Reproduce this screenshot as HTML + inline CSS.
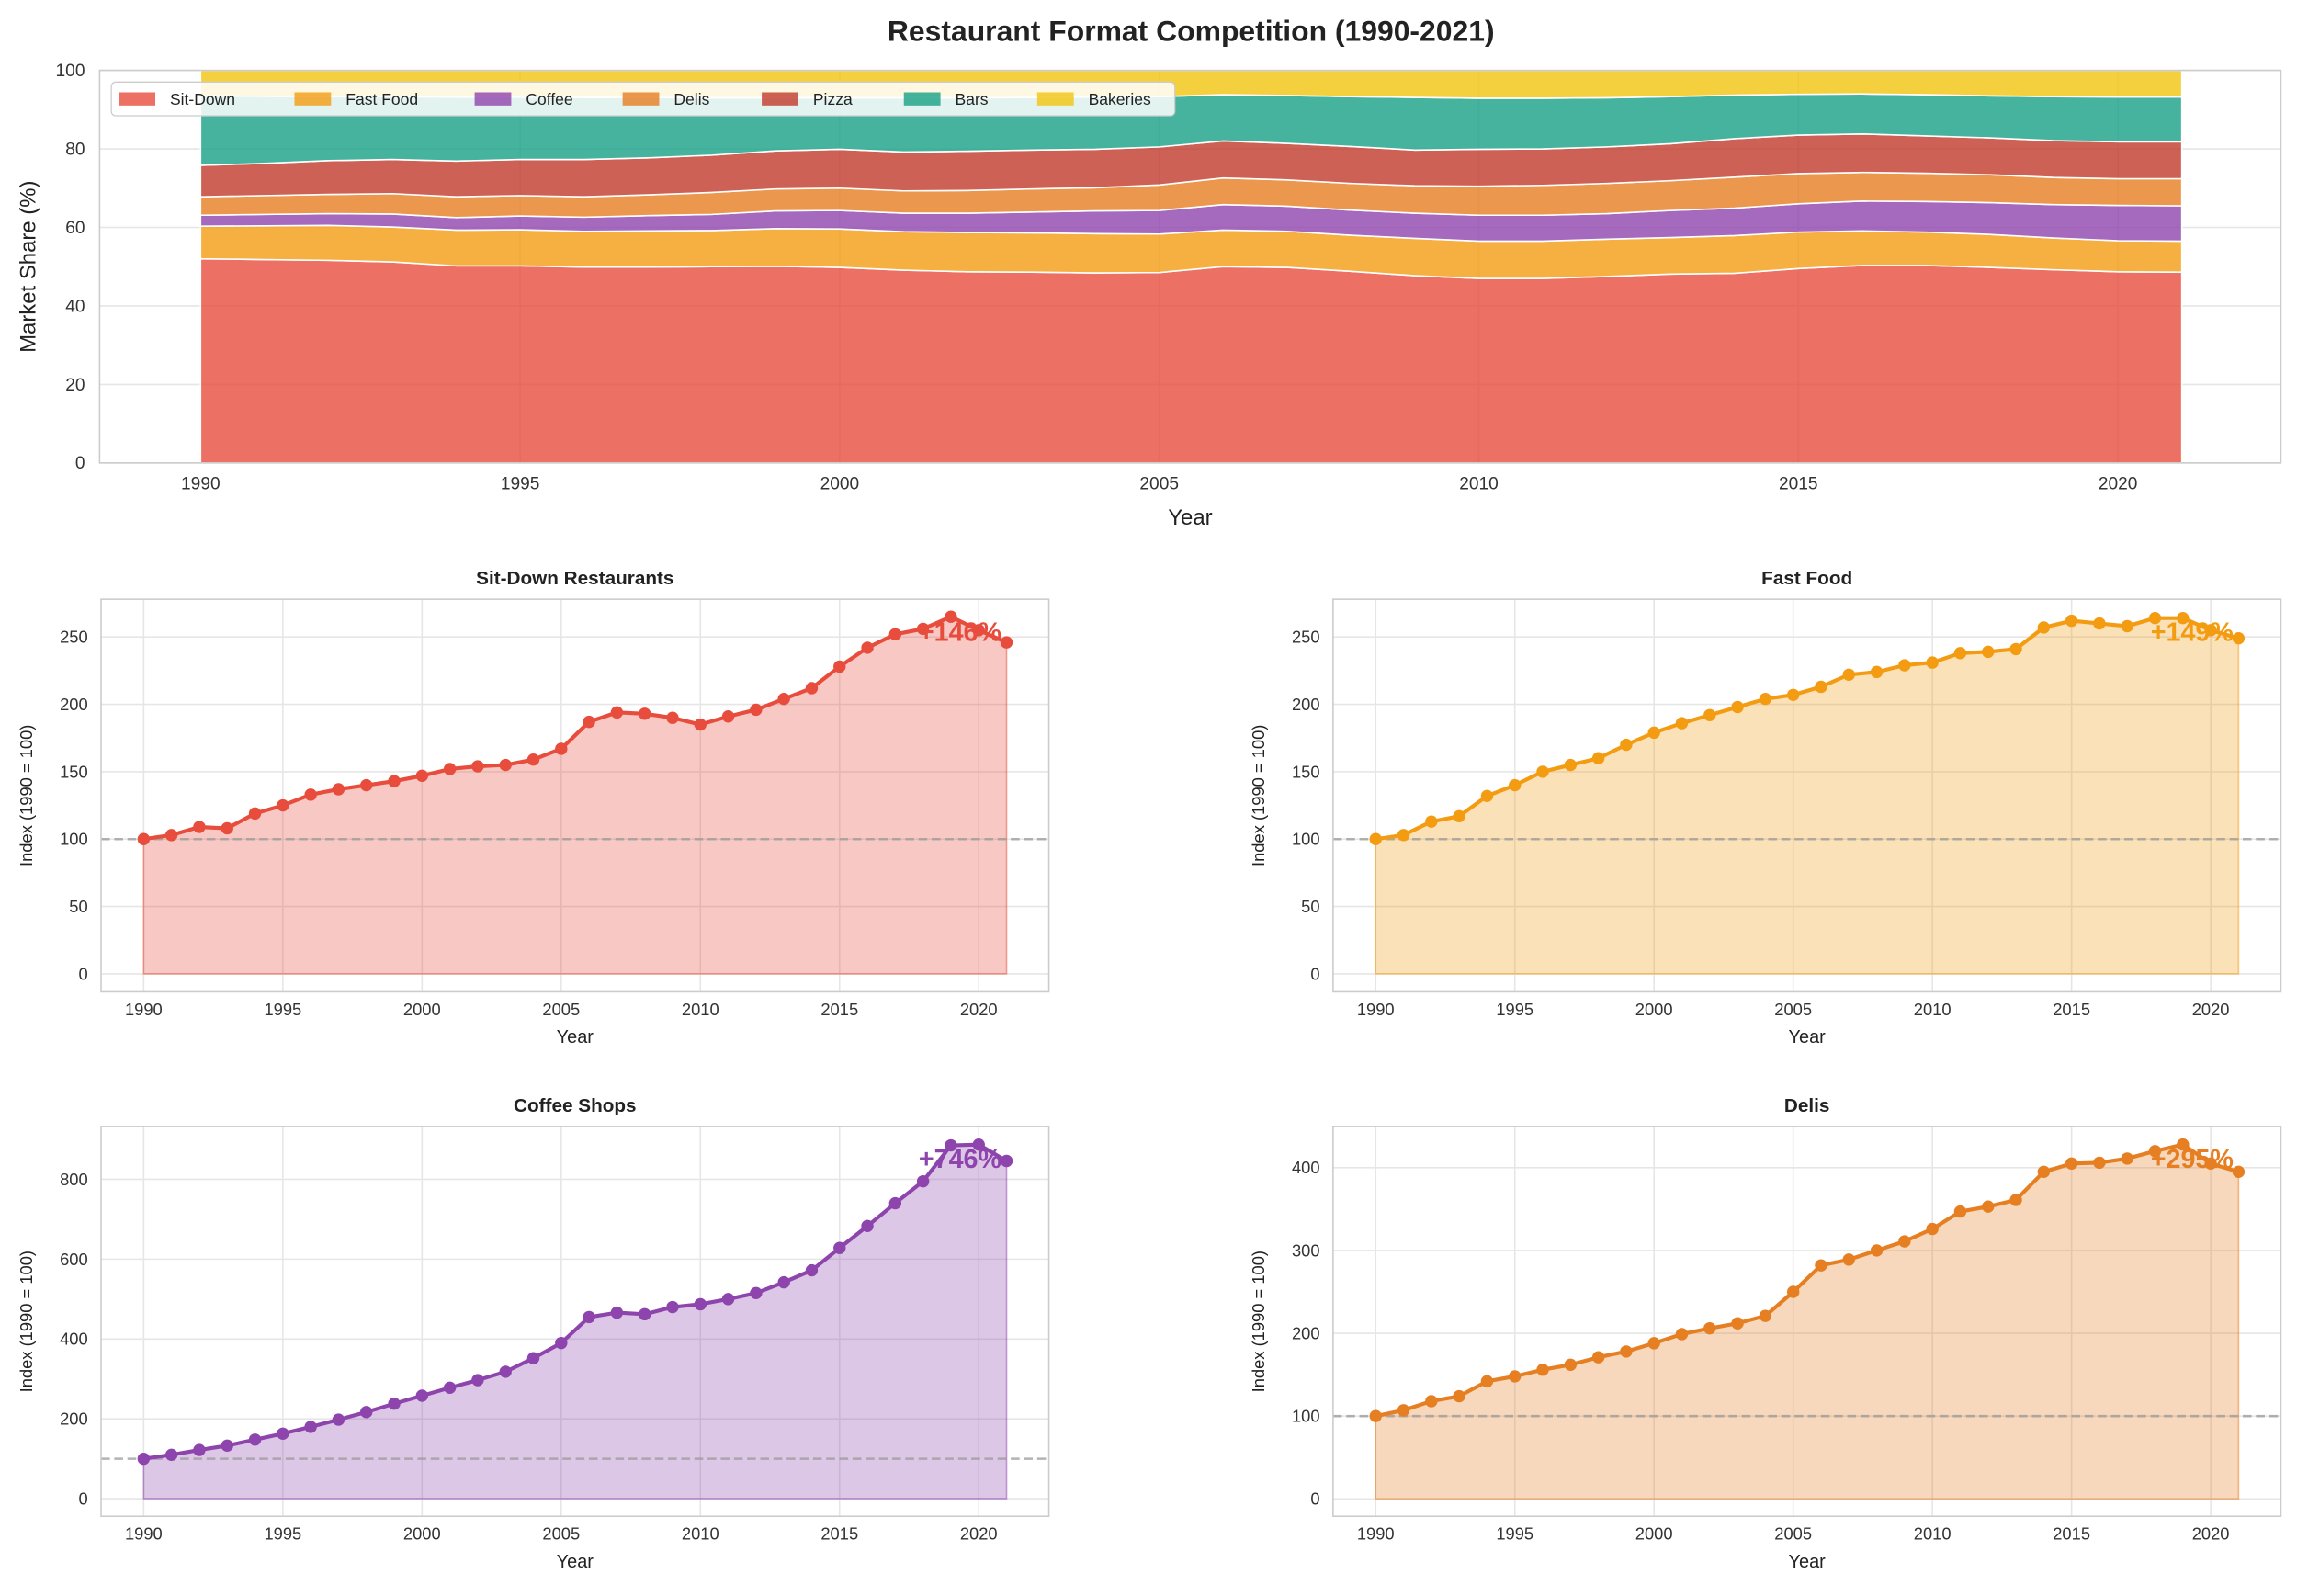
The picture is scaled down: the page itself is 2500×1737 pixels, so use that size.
<!DOCTYPE html>
<html><head><meta charset="utf-8"><style>
html,body{margin:0;padding:0;background:#fff}
svg{display:block;font-family:"Liberation Sans",Arial,sans-serif}
</style></head><body>
<svg id="fig" width="2500" height="1737" viewBox="0 0 1568 1089.4" xmlns="http://www.w3.org/2000/svg">
<rect width="1568" height="1090" fill="#fff"/>
<text x="813" y="28" text-anchor="middle" font-size="20" font-weight="bold" fill="#222">Restaurant Format Competition (1990-2021)</text>
</svg>
<script>
const years=[1990,1991,1992,1993,1994,1995,1996,1997,1998,1999,2000,2001,2002,2003,2004,2005,2006,2007,2008,2009,2010,2011,2012,2013,2014,2015,2016,2017,2018,2019,2020,2021];
const shareSitDown=[52,51.8,51.6,51.2,50.2,50.2,49.9,49.9,50,50.1,49.8,49.1,48.7,48.6,48.4,48.5,50,49.8,48.8,47.7,47,47,47.5,48.1,48.3,49.5,50.3,50.3,49.8,49.2,48.7,48.6];
const shareFastFood=[8.3,8.6,8.9,8.9,9.1,9.2,9.1,9.2,9.2,9.6,9.8,9.8,10,10,10,9.8,9.3,9.2,9.2,9.5,9.5,9.5,9.5,9.3,9.6,9.3,8.8,8.5,8.4,8.1,7.9,7.9];
const shareCoffee=[2.8,2.9,3.0,3.3,3.2,3.5,3.6,3.9,4.1,4.5,4.7,4.7,4.9,5.3,5.8,6.0,6.5,6.4,6.4,6.4,6.6,6.6,6.5,6.9,7.0,7.2,7.6,7.8,8.1,8.5,9.0,9.0];
const shareDelis=[4.7,4.8,4.9,5.2,5.3,5.2,5.2,5.3,5.6,5.6,5.7,5.7,5.8,5.9,5.9,6.5,6.8,6.7,6.8,7.0,7.4,7.6,7.7,7.6,7.9,7.7,7.3,7.2,7.1,6.9,6.8,6.9];
const sharePizza=[8.0,8.2,8.6,8.7,9.1,9.2,9.5,9.4,9.5,9.7,9.9,9.9,10,9.9,9.8,9.7,9.4,9.3,9.4,9.1,9.4,9.3,9.3,9.4,9.8,9.8,9.8,9.5,9.4,9.4,9.4,9.4];
const shareBars=[17.7,17.1,16.3,16,16.3,15.9,15.8,15.4,14.6,13.5,13.1,13.8,13.6,13.4,13.3,12.8,11.8,12.2,12.7,13.4,13,12.9,12.5,12,11.1,10.4,10.2,10.5,10.7,11.2,11.4,11.4];
const shareBakeries=[6.5,6.6,6.7,6.7,6.8,6.8,6.9,6.9,7,7,7,7,7,6.9,6.8,6.7,6.2,6.4,6.7,6.9,7.1,7.1,7,6.7,6.3,6.1,6,6.2,6.5,6.7,6.8,6.8];
const indexSitDown=[100,103,109,108,119,125,133,137,140,143,147,152,154,155,159,167,187,194,193,190,185,191,196,204,212,228,242,252,256,265,255,246];
const indexFastFood=[100,103,113,117,132,140,150,155,160,170,179,186,192,198,204,207,213,222,224,229,231,238,239,241,257,262,260,258,264,264,255,249];
const indexCoffee=[100,110,122,133,148,163,180,198,217,238,258,278,297,318,352,390,455,466,462,480,487,500,515,542,572,628,683,740,795,885,887,846];
const indexDelis=[100,107,118,124,142,148,156,162,171,178,188,199,206,212,221,250,282,289,300,311,326,347,353,361,395,405,406,411,420,428,405,395];
const xTicks=[1990,1995,2000,2005,2010,2015,2020];
const shareTicks=[0,20,40,60,80,100];

const NS="http://www.w3.org/2000/svg";
const svg=document.getElementById('fig');
function el(tag,attrs,parent,txt){const e=document.createElementNS(NS,tag);for(const k in attrs)e.setAttribute(k,attrs[k]);if(txt!==undefined)e.textContent=txt;(parent||svg).appendChild(e);return e;}

// ---------- top stacked chart ----------
(function(){
 const L=68,R=1557,T=48,B=316,x0=1988.42,x1=2022.55;
 const sx=v=>L+(v-x0)/(x1-x0)*(R-L), sy=v=>B-(v/100)*(B-T);
 const g=el('g',{});
 
 
 xTicks.forEach(t=>{const l=el('line',{x1:sx(t),x2:sx(t),y1:T,y2:B,stroke:'#e6e6e6','stroke-width':1},g);});
 shareTicks.forEach(t=>{const l=el('line',{x1:L,x2:R,y1:sy(t),y2:sy(t),stroke:'#e6e6e6','stroke-width':1},g);});
 const series=[['Sit-Down',shareSitDown,'#e74c3c'],['Fast Food',shareFastFood,'#f39c12'],['Coffee',shareCoffee,'#8e44ad'],['Delis',shareDelis,'#e67e22'],['Pizza',sharePizza,'#c0392b'],['Bars',shareBars,'#16a085'],['Bakeries',shareBakeries,'#f1c40f']];
 const base=years.map(()=>0);
 series.forEach(([name,vals,col])=>{
  const top=base.map((b,i)=>b+vals[i]);
  let d='M'+years.map((y,i)=>sx(y)+','+sy(top[i])).join(' L');
  for(let i=years.length-1;i>=0;i--)d+=' L'+sx(years[i])+','+sy(base[i]);
  d+='Z';
  const p=el('path',{d:d,fill:col,'fill-opacity':0.8,stroke:'#fff','stroke-width':1},g);
  
  
  top.forEach((v,i)=>base[i]=v);
 });
 const fr=el('rect',{x:L,y:T,width:R-L,height:B-T,fill:'none',stroke:'#ccc','stroke-width':1},g);
 
 xTicks.forEach(t=>{const tx=el('text',{x:sx(t),y:B+18,'text-anchor':'middle','font-size':12,fill:'#333'},g,t);});
 shareTicks.forEach(t=>{const tx=el('text',{x:L-10,y:sy(t)+4,'text-anchor':'end','font-size':12,fill:'#333'},g,t);});
 const xl=el('text',{x:(L+R)/2,y:358,'text-anchor':'middle','font-size':15,fill:'#222'},g,'Year');
 const yl=el('text',{x:0,y:0,transform:'translate(24,'+(T+B)/2+') rotate(-90)','text-anchor':'middle','font-size':15,fill:'#222'},g,'Market Share (%)');
 const lg=el('g',{},g);
 el('rect',{x:76,y:56,width:726,height:23,rx:3,fill:'#fff','fill-opacity':0.85,stroke:'#ccc','stroke-width':0.8},lg);
 const lx=[81,201,324,425,520,617,708];
 series.forEach(([name,vals,col],i)=>{
  const e=el('g',{},lg);
  el('rect',{x:lx[i],y:63,width:25,height:9,fill:col,'fill-opacity':0.8},e);
  el('text',{x:lx[i]+35,y:71.5,'font-size':11,fill:'#222'},e,name);
 });
})();

// ---------- index subplots ----------
function panel(opt){
 const {L,R,T,B,ymin,ymax,ticks,vals,col,title,label,name}=opt;
 const x0=1988.47,x1=2022.52;
 const sx=v=>L+(v-x0)/(x1-x0)*(R-L), sy=v=>B-(v-ymin)/(ymax-ymin)*(B-T);
 const g=el('g',{});
 
 
 xTicks.forEach(t=>{const l=el('line',{x1:sx(t),x2:sx(t),y1:T,y2:B,stroke:'#e6e6e6','stroke-width':1},g);});
 ticks.forEach(t=>{const l=el('line',{x1:L,x2:R,y1:sy(t),y2:sy(t),stroke:'#e6e6e6','stroke-width':1},g);});
 let d='M'+sx(years[0])+','+sy(0)+' L'+years.map((y,i)=>sx(y)+','+sy(vals[i])).join(' L')+' L'+sx(years[years.length-1])+','+sy(0)+'Z';
 const a=el('path',{d:d,fill:col,'fill-opacity':0.3,stroke:col,'stroke-opacity':0.5,'stroke-width':1},g);
 
 const bl=el('line',{x1:L,x2:R,y1:sy(100),y2:sy(100),stroke:'#999','stroke-opacity':0.75,'stroke-width':1.6,'stroke-dasharray':'6,3'},g);
 
 const ln=el('polyline',{points:years.map((y,i)=>sx(y)+','+sy(vals[i])).join(' '),fill:'none',stroke:col,'stroke-width':2.6,'stroke-linejoin':'round'},g);
 
 years.forEach((y,i)=>{const c=el('circle',{cx:sx(y),cy:sy(vals[i]),r:4.2,fill:col},g);});
 const pct=Math.round(vals[vals.length-1]/vals[0]*100-100);
 const an=el('text',{x:L+0.95*(R-L),y:T+0.05*(B-T)+15,'text-anchor':'end','font-size':18,'font-weight':'bold',fill:col},g,'+'+pct+'%');
 
 const fr=el('rect',{x:L,y:T,width:R-L,height:B-T,fill:'none',stroke:'#ccc','stroke-width':1},g);
 
 xTicks.forEach(t=>{const tx=el('text',{x:sx(t),y:B+16,'text-anchor':'middle','font-size':11.5,fill:'#333'},g,t);});
 ticks.forEach(t=>{const tx=el('text',{x:L-9,y:sy(t)+4,'text-anchor':'end','font-size':11.5,fill:'#333'},g,t);});
 const tt=el('text',{x:(L+R)/2,y:T-10,'text-anchor':'middle','font-size':13,'font-weight':'bold',fill:'#222'},g,title);
 const xl=el('text',{x:(L+R)/2,y:B+35,'text-anchor':'middle','font-size':12.5,fill:'#222'},g,'Year');
 const yl=el('text',{x:0,y:0,transform:'translate('+(L-47)+','+(T+B)/2+') rotate(-90)','text-anchor':'middle','font-size':11.5,fill:'#222'},g,label);
}
const lab='Index (1990 = 100)';
panel({name:'sit-down-panel',L:69,R:716,T:409,B:677,ymin:-13.3,ymax:278,ticks:[0,50,100,150,200,250],vals:indexSitDown,col:'#e74c3c',title:'Sit-Down Restaurants',label:lab});
panel({name:'fast-food-panel',L:910,R:1557,T:409,B:677,ymin:-13.3,ymax:278,ticks:[0,50,100,150,200,250],vals:indexFastFood,col:'#f39c12',title:'Fast Food',label:lab});
panel({name:'coffee-panel',L:69,R:716,T:769,B:1035,ymin:-44,ymax:932,ticks:[0,200,400,600,800],vals:indexCoffee,col:'#8e44ad',title:'Coffee Shops',label:lab});
panel({name:'delis-panel',L:910,R:1557,T:769,B:1035,ymin:-21,ymax:449.6,ticks:[0,100,200,300,400],vals:indexDelis,col:'#e67e22',title:'Delis',label:lab});
</script>
</body></html>
